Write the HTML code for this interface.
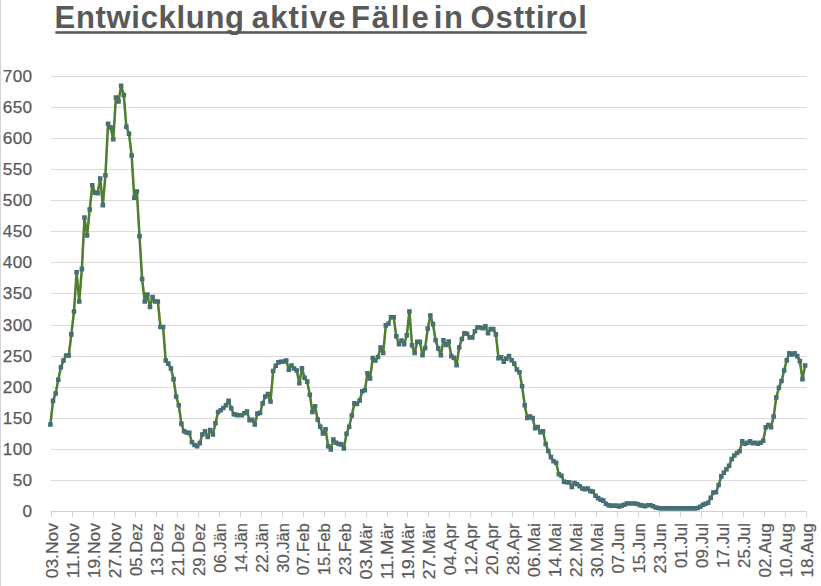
<!DOCTYPE html>
<html lang="de">
<head>
<meta charset="utf-8">
<title>Entwicklung aktive Fälle in Osttirol</title>
<style>
html,body{margin:0;padding:0;background:#fff;}
body{width:821px;height:586px;overflow:hidden;position:relative;font-family:"Liberation Sans",sans-serif;}
#chart{position:absolute;left:0;top:0;width:821px;height:586px;display:block;}
#title span{position:absolute;top:0;}
#title{position:absolute;left:0;top:-0.5px;width:700px;height:36px;margin:0;font-family:"Liberation Sans",sans-serif;font-weight:bold;font-size:31px;line-height:36px;color:#595959;white-space:nowrap;text-decoration:none;}
#lb{position:absolute;left:0;top:0;width:1px;height:586px;background:#d4d4d4;}
</style>
</head>
<body>
<div id="lb"></div>
<h1 id="title"><span style="left:54.6px;letter-spacing:0.68px">Entwicklung</span> <span style="left:251.8px;letter-spacing:1.16px">aktive</span> <span style="left:351.0px;letter-spacing:1.75px">Fälle</span> <span style="left:433.8px;letter-spacing:1.60px">in</span> <span style="left:470.6px;letter-spacing:0.85px">Osttirol</span></h1>
<svg id="chart" width="821" height="586" viewBox="0 0 821 586">
<rect x="55.4" y="31.2" width="531.4" height="2.6" fill="#595959"/>
<g stroke="#dcdcdc" stroke-width="1" fill="none" shape-rendering="crispEdges"><line x1="51.1" y1="480.50" x2="806.6" y2="480.50"/><line x1="51.1" y1="449.50" x2="806.6" y2="449.50"/><line x1="51.1" y1="418.50" x2="806.6" y2="418.50"/><line x1="51.1" y1="387.50" x2="806.6" y2="387.50"/><line x1="51.1" y1="356.50" x2="806.6" y2="356.50"/><line x1="51.1" y1="325.50" x2="806.6" y2="325.50"/><line x1="51.1" y1="293.50" x2="806.6" y2="293.50"/><line x1="51.1" y1="262.50" x2="806.6" y2="262.50"/><line x1="51.1" y1="231.50" x2="806.6" y2="231.50"/><line x1="51.1" y1="200.50" x2="806.6" y2="200.50"/><line x1="51.1" y1="169.50" x2="806.6" y2="169.50"/><line x1="51.1" y1="138.50" x2="806.6" y2="138.50"/><line x1="51.1" y1="107.50" x2="806.6" y2="107.50"/><line x1="51.1" y1="76.50" x2="806.6" y2="76.50"/></g>
<g stroke="#d2d2d2" stroke-width="1" fill="none" shape-rendering="crispEdges"><line x1="51.1" y1="511.5" x2="806.6" y2="511.5"/><line x1="51.60" y1="511.50" x2="51.60" y2="517.00"/><line x1="72.56" y1="511.50" x2="72.56" y2="517.00"/><line x1="93.53" y1="511.50" x2="93.53" y2="517.00"/><line x1="114.49" y1="511.50" x2="114.49" y2="517.00"/><line x1="135.46" y1="511.50" x2="135.46" y2="517.00"/><line x1="156.42" y1="511.50" x2="156.42" y2="517.00"/><line x1="177.38" y1="511.50" x2="177.38" y2="517.00"/><line x1="198.35" y1="511.50" x2="198.35" y2="517.00"/><line x1="219.31" y1="511.50" x2="219.31" y2="517.00"/><line x1="240.28" y1="511.50" x2="240.28" y2="517.00"/><line x1="261.24" y1="511.50" x2="261.24" y2="517.00"/><line x1="282.20" y1="511.50" x2="282.20" y2="517.00"/><line x1="303.17" y1="511.50" x2="303.17" y2="517.00"/><line x1="324.13" y1="511.50" x2="324.13" y2="517.00"/><line x1="345.10" y1="511.50" x2="345.10" y2="517.00"/><line x1="366.06" y1="511.50" x2="366.06" y2="517.00"/><line x1="387.02" y1="511.50" x2="387.02" y2="517.00"/><line x1="407.99" y1="511.50" x2="407.99" y2="517.00"/><line x1="428.95" y1="511.50" x2="428.95" y2="517.00"/><line x1="449.92" y1="511.50" x2="449.92" y2="517.00"/><line x1="470.88" y1="511.50" x2="470.88" y2="517.00"/><line x1="491.84" y1="511.50" x2="491.84" y2="517.00"/><line x1="512.81" y1="511.50" x2="512.81" y2="517.00"/><line x1="533.77" y1="511.50" x2="533.77" y2="517.00"/><line x1="554.74" y1="511.50" x2="554.74" y2="517.00"/><line x1="575.70" y1="511.50" x2="575.70" y2="517.00"/><line x1="596.66" y1="511.50" x2="596.66" y2="517.00"/><line x1="617.63" y1="511.50" x2="617.63" y2="517.00"/><line x1="638.59" y1="511.50" x2="638.59" y2="517.00"/><line x1="659.56" y1="511.50" x2="659.56" y2="517.00"/><line x1="680.52" y1="511.50" x2="680.52" y2="517.00"/><line x1="701.48" y1="511.50" x2="701.48" y2="517.00"/><line x1="722.45" y1="511.50" x2="722.45" y2="517.00"/><line x1="743.41" y1="511.50" x2="743.41" y2="517.00"/><line x1="764.38" y1="511.50" x2="764.38" y2="517.00"/><line x1="785.34" y1="511.50" x2="785.34" y2="517.00"/><line x1="806.30" y1="511.50" x2="806.30" y2="517.00"/></g>
<g font-family="'Liberation Sans',sans-serif" font-size="17.2" letter-spacing="0.35" fill="#595959" stroke="#595959" stroke-width="0.25"><text x="32.5" y="516.90" text-anchor="end">0</text><text x="32.5" y="485.90" text-anchor="end">50</text><text x="32.5" y="454.90" text-anchor="end">100</text><text x="32.5" y="423.90" text-anchor="end">150</text><text x="32.5" y="392.90" text-anchor="end">200</text><text x="32.5" y="361.90" text-anchor="end">250</text><text x="32.5" y="330.90" text-anchor="end">300</text><text x="32.5" y="298.90" text-anchor="end">350</text><text x="32.5" y="267.90" text-anchor="end">400</text><text x="32.5" y="236.90" text-anchor="end">450</text><text x="32.5" y="205.90" text-anchor="end">500</text><text x="32.5" y="174.90" text-anchor="end">550</text><text x="32.5" y="143.90" text-anchor="end">600</text><text x="32.5" y="112.90" text-anchor="end">650</text><text x="32.5" y="81.90" text-anchor="end">700</text></g>
<g font-family="'Liberation Sans',sans-serif" font-size="17" fill="#595959" stroke="#595959" stroke-width="0.22"><text transform="translate(51.70 523.1) rotate(-90)" x="-55.13" y="6.2" textLength="55.13" lengthAdjust="spacingAndGlyphs">03.Nov</text><text transform="translate(72.66 523.1) rotate(-90)" x="-55.13" y="6.2" textLength="55.13" lengthAdjust="spacingAndGlyphs">11.Nov</text><text transform="translate(93.63 523.1) rotate(-90)" x="-55.13" y="6.2" textLength="55.13" lengthAdjust="spacingAndGlyphs">19.Nov</text><text transform="translate(114.59 523.1) rotate(-90)" x="-55.13" y="6.2" textLength="55.13" lengthAdjust="spacingAndGlyphs">27.Nov</text><text transform="translate(135.56 523.1) rotate(-90)" x="-52.80" y="6.2" textLength="52.80" lengthAdjust="spacingAndGlyphs">05.Dez</text><text transform="translate(156.52 523.1) rotate(-90)" x="-52.80" y="6.2" textLength="52.80" lengthAdjust="spacingAndGlyphs">13.Dez</text><text transform="translate(177.48 523.1) rotate(-90)" x="-52.80" y="6.2" textLength="52.80" lengthAdjust="spacingAndGlyphs">21.Dez</text><text transform="translate(198.45 523.1) rotate(-90)" x="-52.80" y="6.2" textLength="52.80" lengthAdjust="spacingAndGlyphs">29.Dez</text><text transform="translate(219.41 523.1) rotate(-90)" x="-49.63" y="6.2" textLength="49.63" lengthAdjust="spacingAndGlyphs">06.Jän</text><text transform="translate(240.38 523.1) rotate(-90)" x="-49.63" y="6.2" textLength="49.63" lengthAdjust="spacingAndGlyphs">14.Jän</text><text transform="translate(261.34 523.1) rotate(-90)" x="-49.63" y="6.2" textLength="49.63" lengthAdjust="spacingAndGlyphs">22.Jän</text><text transform="translate(282.30 523.1) rotate(-90)" x="-49.63" y="6.2" textLength="49.63" lengthAdjust="spacingAndGlyphs">30.Jän</text><text transform="translate(303.27 523.1) rotate(-90)" x="-52.22" y="6.2" textLength="52.22" lengthAdjust="spacingAndGlyphs">07.Feb</text><text transform="translate(324.23 523.1) rotate(-90)" x="-52.22" y="6.2" textLength="52.22" lengthAdjust="spacingAndGlyphs">15.Feb</text><text transform="translate(345.20 523.1) rotate(-90)" x="-52.22" y="6.2" textLength="52.22" lengthAdjust="spacingAndGlyphs">23.Feb</text><text transform="translate(366.16 523.1) rotate(-90)" x="-56.32" y="6.2" textLength="56.32" lengthAdjust="spacingAndGlyphs">03.Mär</text><text transform="translate(387.12 523.1) rotate(-90)" x="-56.32" y="6.2" textLength="56.32" lengthAdjust="spacingAndGlyphs">11.Mär</text><text transform="translate(408.09 523.1) rotate(-90)" x="-56.32" y="6.2" textLength="56.32" lengthAdjust="spacingAndGlyphs">19.Mär</text><text transform="translate(429.05 523.1) rotate(-90)" x="-56.32" y="6.2" textLength="56.32" lengthAdjust="spacingAndGlyphs">27.Mär</text><text transform="translate(450.02 523.1) rotate(-90)" x="-52.04" y="6.2" textLength="52.04" lengthAdjust="spacingAndGlyphs">04.Apr</text><text transform="translate(470.98 523.1) rotate(-90)" x="-52.04" y="6.2" textLength="52.04" lengthAdjust="spacingAndGlyphs">12.Apr</text><text transform="translate(491.94 523.1) rotate(-90)" x="-52.04" y="6.2" textLength="52.04" lengthAdjust="spacingAndGlyphs">20.Apr</text><text transform="translate(512.91 523.1) rotate(-90)" x="-52.04" y="6.2" textLength="52.04" lengthAdjust="spacingAndGlyphs">28.Apr</text><text transform="translate(533.87 523.1) rotate(-90)" x="-54.05" y="6.2" textLength="54.05" lengthAdjust="spacingAndGlyphs">06.Mai</text><text transform="translate(554.84 523.1) rotate(-90)" x="-54.05" y="6.2" textLength="54.05" lengthAdjust="spacingAndGlyphs">14.Mai</text><text transform="translate(575.80 523.1) rotate(-90)" x="-54.05" y="6.2" textLength="54.05" lengthAdjust="spacingAndGlyphs">22.Mai</text><text transform="translate(596.76 523.1) rotate(-90)" x="-54.05" y="6.2" textLength="54.05" lengthAdjust="spacingAndGlyphs">30.Mai</text><text transform="translate(617.73 523.1) rotate(-90)" x="-50.52" y="6.2" textLength="50.52" lengthAdjust="spacingAndGlyphs">07.Jun</text><text transform="translate(638.69 523.1) rotate(-90)" x="-50.52" y="6.2" textLength="50.52" lengthAdjust="spacingAndGlyphs">15.Jun</text><text transform="translate(659.66 523.1) rotate(-90)" x="-50.52" y="6.2" textLength="50.52" lengthAdjust="spacingAndGlyphs">23.Jun</text><text transform="translate(680.62 523.1) rotate(-90)" x="-44.87" y="6.2" textLength="44.87" lengthAdjust="spacingAndGlyphs">01.Jul</text><text transform="translate(701.58 523.1) rotate(-90)" x="-44.87" y="6.2" textLength="44.87" lengthAdjust="spacingAndGlyphs">09.Jul</text><text transform="translate(722.55 523.1) rotate(-90)" x="-44.87" y="6.2" textLength="44.87" lengthAdjust="spacingAndGlyphs">17.Jul</text><text transform="translate(743.51 523.1) rotate(-90)" x="-44.87" y="6.2" textLength="44.87" lengthAdjust="spacingAndGlyphs">25.Jul</text><text transform="translate(764.48 523.1) rotate(-90)" x="-54.37" y="6.2" textLength="54.37" lengthAdjust="spacingAndGlyphs">02.Aug</text><text transform="translate(785.44 523.1) rotate(-90)" x="-54.37" y="6.2" textLength="54.37" lengthAdjust="spacingAndGlyphs">10.Aug</text><text transform="translate(806.40 523.1) rotate(-90)" x="-54.37" y="6.2" textLength="54.37" lengthAdjust="spacingAndGlyphs">18.Aug</text></g>
<path d="M50.40 424.50L53.02 400.89L55.64 393.43L58.26 379.76L60.88 367.33L63.50 360.49L66.12 355.52L68.74 355.52L71.36 334.39L73.98 311.40L76.60 272.25L79.23 301.46L81.85 269.14L84.47 217.56L87.09 235.59L89.71 209.49L92.33 185.25L94.95 192.71L97.57 193.33L100.19 178.41L102.81 205.14L105.43 175.31L108.05 123.73L110.67 127.46L113.29 139.26L115.91 97.63L118.53 101.36L121.15 85.82L123.77 95.14L126.39 126.83L129.01 133.67L131.64 155.42L134.26 197.68L136.88 191.46L139.50 236.21L142.12 279.09L144.74 301.46L147.36 294.62L149.98 307.05L152.60 297.11L155.22 301.46L157.84 301.46L160.46 326.94L163.08 326.94L165.70 360.49L168.32 363.60L170.94 368.57L173.56 379.14L176.18 396.54L178.80 405.24L181.42 423.88L184.05 431.34L186.67 432.58L189.29 432.89L191.91 442.21L194.53 445.01L197.15 446.25L199.77 443.14L202.39 434.44L205.01 431.34L207.63 436.93L210.25 430.09L212.87 434.44L215.49 423.26L218.11 412.07L220.73 410.21L223.35 408.03L225.97 405.24L228.59 400.89L231.21 408.34L233.84 414.25L236.46 414.87L239.08 415.18L241.70 415.18L244.32 413.31L246.94 411.45L249.56 420.15L252.18 419.84L254.80 424.50L257.42 413.62L260.04 413.00L262.66 403.37L265.28 396.54L267.90 394.05L270.52 401.51L273.14 371.06L275.76 365.77L278.38 362.36L281.00 361.74L283.62 361.42L286.24 360.49L288.87 369.81L291.49 365.46L294.11 368.57L296.73 370.44L299.35 383.17L301.97 368.26L304.59 377.89L307.21 381.62L309.83 394.67L312.45 412.07L315.07 406.17L317.69 419.53L320.31 426.67L322.93 433.51L325.55 429.16L328.17 446.25L330.79 449.36L333.41 439.41L336.03 442.83L338.65 444.07L341.28 444.39L343.90 448.42L346.52 433.82L349.14 426.67L351.76 415.49L354.38 403.37L357.00 403.99L359.62 400.57L362.24 391.25L364.86 390.32L367.48 373.23L370.10 378.51L372.72 358.01L375.34 360.49L377.96 357.07L380.58 347.44L383.20 353.04L385.82 325.38L388.44 323.83L391.06 317.30L393.69 317.30L396.31 336.26L398.93 344.34L401.55 340.61L404.17 344.34L406.79 335.32L409.41 311.40L412.03 345.27L414.65 353.04L417.27 341.85L419.89 341.85L422.51 355.21L425.13 348.06L427.75 328.49L430.37 315.44L432.99 324.14L435.61 340.30L438.23 348.37L440.85 355.21L443.47 340.30L446.10 344.96L448.72 341.54L451.34 356.14L453.96 357.70L456.58 365.15L459.20 347.44L461.82 339.05L464.44 333.15L467.06 333.77L469.68 337.50L472.30 337.50L474.92 331.29L477.54 327.25L480.16 327.56L482.78 328.18L485.40 326.31L488.02 333.15L490.64 329.11L493.26 329.11L495.88 334.39L498.51 358.32L501.13 357.39L503.75 361.74L506.37 358.63L508.99 356.14L511.61 360.18L514.23 363.60L516.85 369.50L519.47 372.30L522.09 386.28L524.71 405.24L527.33 417.97L529.95 416.42L532.57 417.97L535.19 428.23L537.81 426.99L540.43 432.27L543.05 431.34L545.67 444.07L548.29 450.91L550.92 457.12L553.54 461.16L556.16 462.72L558.78 474.21L561.40 475.77L564.02 481.67L566.64 482.29L569.26 482.42L571.88 486.95L574.50 482.91L577.12 484.16L579.74 486.33L582.36 488.51L584.98 489.13L587.60 488.51L590.22 490.99L592.84 491.61L595.46 495.65L598.08 498.14L600.70 499.69L603.33 500.62L605.95 503.73L608.57 505.29L611.19 505.60L613.81 505.60L616.43 505.60L619.05 506.53L621.67 505.60L624.29 504.66L626.91 503.42L629.53 503.42L632.15 503.42L634.77 503.42L637.39 504.04L640.01 505.10L642.63 505.60L645.25 506.28L647.87 505.29L650.49 505.29L653.11 506.22L655.74 507.58L658.36 508.08L660.98 508.39L663.60 508.39L666.22 508.39L668.84 508.39L671.46 508.39L674.08 508.39L676.70 508.39L679.32 508.39L681.94 508.39L684.56 508.39L687.18 508.39L689.80 508.39L692.42 508.39L695.04 508.39L697.66 508.08L700.28 506.84L702.90 504.66L705.52 503.73L708.15 502.80L710.77 497.83L713.39 492.55L716.01 492.24L718.63 485.09L721.25 476.39L723.87 472.66L726.49 469.24L729.11 465.82L731.73 458.99L734.35 455.57L736.97 453.09L739.59 451.22L742.21 441.28L744.83 443.76L747.45 442.83L750.07 441.28L752.69 443.14L755.31 442.83L757.93 443.76L760.56 442.83L763.18 440.66L765.80 427.30L768.42 425.12L771.04 427.30L773.66 416.42L776.28 397.47L778.90 387.84L781.52 381.00L784.14 370.44L786.76 360.18L789.38 353.35L792.00 354.59L794.62 353.35L797.24 356.14L799.86 361.11L802.48 379.14L805.10 365.46" fill="none" stroke="#527e30" stroke-width="2.5" stroke-linejoin="round" stroke-linecap="round"/>
<path d="M48.75 422.85h3.3v3.3h-3.3zM51.37 399.24h3.3v3.3h-3.3zM53.99 391.78h3.3v3.3h-3.3zM56.61 378.11h3.3v3.3h-3.3zM59.23 365.68h3.3v3.3h-3.3zM61.85 358.84h3.3v3.3h-3.3zM64.47 353.87h3.3v3.3h-3.3zM67.09 353.87h3.3v3.3h-3.3zM69.71 332.74h3.3v3.3h-3.3zM72.33 309.75h3.3v3.3h-3.3zM74.95 270.60h3.3v3.3h-3.3zM77.58 299.81h3.3v3.3h-3.3zM80.20 267.49h3.3v3.3h-3.3zM82.82 215.91h3.3v3.3h-3.3zM85.44 233.94h3.3v3.3h-3.3zM88.06 207.84h3.3v3.3h-3.3zM90.68 183.60h3.3v3.3h-3.3zM93.30 191.06h3.3v3.3h-3.3zM95.92 191.68h3.3v3.3h-3.3zM98.54 176.76h3.3v3.3h-3.3zM101.16 203.49h3.3v3.3h-3.3zM103.78 173.66h3.3v3.3h-3.3zM106.40 122.08h3.3v3.3h-3.3zM109.02 125.81h3.3v3.3h-3.3zM111.64 137.61h3.3v3.3h-3.3zM114.26 95.98h3.3v3.3h-3.3zM116.88 99.71h3.3v3.3h-3.3zM119.50 84.17h3.3v3.3h-3.3zM122.12 93.49h3.3v3.3h-3.3zM124.74 125.18h3.3v3.3h-3.3zM127.36 132.02h3.3v3.3h-3.3zM129.99 153.77h3.3v3.3h-3.3zM132.61 196.03h3.3v3.3h-3.3zM135.23 189.81h3.3v3.3h-3.3zM137.85 234.56h3.3v3.3h-3.3zM140.47 277.44h3.3v3.3h-3.3zM143.09 299.81h3.3v3.3h-3.3zM145.71 292.97h3.3v3.3h-3.3zM148.33 305.40h3.3v3.3h-3.3zM150.95 295.46h3.3v3.3h-3.3zM153.57 299.81h3.3v3.3h-3.3zM156.19 299.81h3.3v3.3h-3.3zM158.81 325.29h3.3v3.3h-3.3zM161.43 325.29h3.3v3.3h-3.3zM164.05 358.84h3.3v3.3h-3.3zM166.67 361.95h3.3v3.3h-3.3zM169.29 366.92h3.3v3.3h-3.3zM171.91 377.49h3.3v3.3h-3.3zM174.53 394.89h3.3v3.3h-3.3zM177.15 403.59h3.3v3.3h-3.3zM179.77 422.23h3.3v3.3h-3.3zM182.40 429.69h3.3v3.3h-3.3zM185.02 430.93h3.3v3.3h-3.3zM187.64 431.24h3.3v3.3h-3.3zM190.26 440.56h3.3v3.3h-3.3zM192.88 443.36h3.3v3.3h-3.3zM195.50 444.60h3.3v3.3h-3.3zM198.12 441.49h3.3v3.3h-3.3zM200.74 432.79h3.3v3.3h-3.3zM203.36 429.69h3.3v3.3h-3.3zM205.98 435.28h3.3v3.3h-3.3zM208.60 428.44h3.3v3.3h-3.3zM211.22 432.79h3.3v3.3h-3.3zM213.84 421.61h3.3v3.3h-3.3zM216.46 410.42h3.3v3.3h-3.3zM219.08 408.56h3.3v3.3h-3.3zM221.70 406.38h3.3v3.3h-3.3zM224.32 403.59h3.3v3.3h-3.3zM226.94 399.24h3.3v3.3h-3.3zM229.56 406.69h3.3v3.3h-3.3zM232.19 412.60h3.3v3.3h-3.3zM234.81 413.22h3.3v3.3h-3.3zM237.43 413.53h3.3v3.3h-3.3zM240.05 413.53h3.3v3.3h-3.3zM242.67 411.66h3.3v3.3h-3.3zM245.29 409.80h3.3v3.3h-3.3zM247.91 418.50h3.3v3.3h-3.3zM250.53 418.19h3.3v3.3h-3.3zM253.15 422.85h3.3v3.3h-3.3zM255.77 411.97h3.3v3.3h-3.3zM258.39 411.35h3.3v3.3h-3.3zM261.01 401.72h3.3v3.3h-3.3zM263.63 394.89h3.3v3.3h-3.3zM266.25 392.40h3.3v3.3h-3.3zM268.87 399.86h3.3v3.3h-3.3zM271.49 369.41h3.3v3.3h-3.3zM274.11 364.12h3.3v3.3h-3.3zM276.73 360.71h3.3v3.3h-3.3zM279.35 360.09h3.3v3.3h-3.3zM281.97 359.77h3.3v3.3h-3.3zM284.59 358.84h3.3v3.3h-3.3zM287.22 368.16h3.3v3.3h-3.3zM289.84 363.81h3.3v3.3h-3.3zM292.46 366.92h3.3v3.3h-3.3zM295.08 368.79h3.3v3.3h-3.3zM297.70 381.52h3.3v3.3h-3.3zM300.32 366.61h3.3v3.3h-3.3zM302.94 376.24h3.3v3.3h-3.3zM305.56 379.97h3.3v3.3h-3.3zM308.18 393.02h3.3v3.3h-3.3zM310.80 410.42h3.3v3.3h-3.3zM313.42 404.52h3.3v3.3h-3.3zM316.04 417.88h3.3v3.3h-3.3zM318.66 425.02h3.3v3.3h-3.3zM321.28 431.86h3.3v3.3h-3.3zM323.90 427.51h3.3v3.3h-3.3zM326.52 444.60h3.3v3.3h-3.3zM329.14 447.71h3.3v3.3h-3.3zM331.76 437.76h3.3v3.3h-3.3zM334.38 441.18h3.3v3.3h-3.3zM337.00 442.42h3.3v3.3h-3.3zM339.63 442.74h3.3v3.3h-3.3zM342.25 446.77h3.3v3.3h-3.3zM344.87 432.17h3.3v3.3h-3.3zM347.49 425.02h3.3v3.3h-3.3zM350.11 413.84h3.3v3.3h-3.3zM352.73 401.72h3.3v3.3h-3.3zM355.35 402.34h3.3v3.3h-3.3zM357.97 398.92h3.3v3.3h-3.3zM360.59 389.60h3.3v3.3h-3.3zM363.21 388.67h3.3v3.3h-3.3zM365.83 371.58h3.3v3.3h-3.3zM368.45 376.86h3.3v3.3h-3.3zM371.07 356.36h3.3v3.3h-3.3zM373.69 358.84h3.3v3.3h-3.3zM376.31 355.42h3.3v3.3h-3.3zM378.93 345.79h3.3v3.3h-3.3zM381.55 351.39h3.3v3.3h-3.3zM384.17 323.73h3.3v3.3h-3.3zM386.79 322.18h3.3v3.3h-3.3zM389.41 315.65h3.3v3.3h-3.3zM392.04 315.65h3.3v3.3h-3.3zM394.66 334.61h3.3v3.3h-3.3zM397.28 342.69h3.3v3.3h-3.3zM399.90 338.96h3.3v3.3h-3.3zM402.52 342.69h3.3v3.3h-3.3zM405.14 333.67h3.3v3.3h-3.3zM407.76 309.75h3.3v3.3h-3.3zM410.38 343.62h3.3v3.3h-3.3zM413.00 351.39h3.3v3.3h-3.3zM415.62 340.20h3.3v3.3h-3.3zM418.24 340.20h3.3v3.3h-3.3zM420.86 353.56h3.3v3.3h-3.3zM423.48 346.41h3.3v3.3h-3.3zM426.10 326.84h3.3v3.3h-3.3zM428.72 313.79h3.3v3.3h-3.3zM431.34 322.49h3.3v3.3h-3.3zM433.96 338.65h3.3v3.3h-3.3zM436.58 346.72h3.3v3.3h-3.3zM439.20 353.56h3.3v3.3h-3.3zM441.82 338.65h3.3v3.3h-3.3zM444.45 343.31h3.3v3.3h-3.3zM447.07 339.89h3.3v3.3h-3.3zM449.69 354.49h3.3v3.3h-3.3zM452.31 356.05h3.3v3.3h-3.3zM454.93 363.50h3.3v3.3h-3.3zM457.55 345.79h3.3v3.3h-3.3zM460.17 337.40h3.3v3.3h-3.3zM462.79 331.50h3.3v3.3h-3.3zM465.41 332.12h3.3v3.3h-3.3zM468.03 335.85h3.3v3.3h-3.3zM470.65 335.85h3.3v3.3h-3.3zM473.27 329.64h3.3v3.3h-3.3zM475.89 325.60h3.3v3.3h-3.3zM478.51 325.91h3.3v3.3h-3.3zM481.13 326.53h3.3v3.3h-3.3zM483.75 324.66h3.3v3.3h-3.3zM486.37 331.50h3.3v3.3h-3.3zM488.99 327.46h3.3v3.3h-3.3zM491.61 327.46h3.3v3.3h-3.3zM494.23 332.74h3.3v3.3h-3.3zM496.86 356.67h3.3v3.3h-3.3zM499.48 355.74h3.3v3.3h-3.3zM502.10 360.09h3.3v3.3h-3.3zM504.72 356.98h3.3v3.3h-3.3zM507.34 354.49h3.3v3.3h-3.3zM509.96 358.53h3.3v3.3h-3.3zM512.58 361.95h3.3v3.3h-3.3zM515.20 367.85h3.3v3.3h-3.3zM517.82 370.65h3.3v3.3h-3.3zM520.44 384.63h3.3v3.3h-3.3zM523.06 403.59h3.3v3.3h-3.3zM525.68 416.32h3.3v3.3h-3.3zM528.30 414.77h3.3v3.3h-3.3zM530.92 416.32h3.3v3.3h-3.3zM533.54 426.58h3.3v3.3h-3.3zM536.16 425.34h3.3v3.3h-3.3zM538.78 430.62h3.3v3.3h-3.3zM541.40 429.69h3.3v3.3h-3.3zM544.02 442.42h3.3v3.3h-3.3zM546.64 449.26h3.3v3.3h-3.3zM549.27 455.47h3.3v3.3h-3.3zM551.89 459.51h3.3v3.3h-3.3zM554.51 461.07h3.3v3.3h-3.3zM557.13 472.56h3.3v3.3h-3.3zM559.75 474.12h3.3v3.3h-3.3zM562.37 480.02h3.3v3.3h-3.3zM564.99 480.64h3.3v3.3h-3.3zM567.61 480.77h3.3v3.3h-3.3zM570.23 485.30h3.3v3.3h-3.3zM572.85 481.26h3.3v3.3h-3.3zM575.47 482.51h3.3v3.3h-3.3zM578.09 484.68h3.3v3.3h-3.3zM580.71 486.86h3.3v3.3h-3.3zM583.33 487.48h3.3v3.3h-3.3zM585.95 486.86h3.3v3.3h-3.3zM588.57 489.34h3.3v3.3h-3.3zM591.19 489.96h3.3v3.3h-3.3zM593.81 494.00h3.3v3.3h-3.3zM596.43 496.49h3.3v3.3h-3.3zM599.05 498.04h3.3v3.3h-3.3zM601.68 498.97h3.3v3.3h-3.3zM604.30 502.08h3.3v3.3h-3.3zM606.92 503.64h3.3v3.3h-3.3zM609.54 503.95h3.3v3.3h-3.3zM612.16 503.95h3.3v3.3h-3.3zM614.78 503.95h3.3v3.3h-3.3zM617.40 504.88h3.3v3.3h-3.3zM620.02 503.95h3.3v3.3h-3.3zM622.64 503.01h3.3v3.3h-3.3zM625.26 501.77h3.3v3.3h-3.3zM627.88 501.77h3.3v3.3h-3.3zM630.50 501.77h3.3v3.3h-3.3zM633.12 501.77h3.3v3.3h-3.3zM635.74 502.39h3.3v3.3h-3.3zM638.36 503.45h3.3v3.3h-3.3zM640.98 503.95h3.3v3.3h-3.3zM643.60 504.63h3.3v3.3h-3.3zM646.22 503.64h3.3v3.3h-3.3zM648.84 503.64h3.3v3.3h-3.3zM651.46 504.57h3.3v3.3h-3.3zM654.09 505.93h3.3v3.3h-3.3zM656.71 506.43h3.3v3.3h-3.3zM659.33 506.74h3.3v3.3h-3.3zM661.95 506.74h3.3v3.3h-3.3zM664.57 506.74h3.3v3.3h-3.3zM667.19 506.74h3.3v3.3h-3.3zM669.81 506.74h3.3v3.3h-3.3zM672.43 506.74h3.3v3.3h-3.3zM675.05 506.74h3.3v3.3h-3.3zM677.67 506.74h3.3v3.3h-3.3zM680.29 506.74h3.3v3.3h-3.3zM682.91 506.74h3.3v3.3h-3.3zM685.53 506.74h3.3v3.3h-3.3zM688.15 506.74h3.3v3.3h-3.3zM690.77 506.74h3.3v3.3h-3.3zM693.39 506.74h3.3v3.3h-3.3zM696.01 506.43h3.3v3.3h-3.3zM698.63 505.19h3.3v3.3h-3.3zM701.25 503.01h3.3v3.3h-3.3zM703.88 502.08h3.3v3.3h-3.3zM706.50 501.15h3.3v3.3h-3.3zM709.12 496.18h3.3v3.3h-3.3zM711.74 490.90h3.3v3.3h-3.3zM714.36 490.59h3.3v3.3h-3.3zM716.98 483.44h3.3v3.3h-3.3zM719.60 474.74h3.3v3.3h-3.3zM722.22 471.01h3.3v3.3h-3.3zM724.84 467.59h3.3v3.3h-3.3zM727.46 464.17h3.3v3.3h-3.3zM730.08 457.34h3.3v3.3h-3.3zM732.70 453.92h3.3v3.3h-3.3zM735.32 451.44h3.3v3.3h-3.3zM737.94 449.57h3.3v3.3h-3.3zM740.56 439.63h3.3v3.3h-3.3zM743.18 442.11h3.3v3.3h-3.3zM745.80 441.18h3.3v3.3h-3.3zM748.42 439.63h3.3v3.3h-3.3zM751.04 441.49h3.3v3.3h-3.3zM753.66 441.18h3.3v3.3h-3.3zM756.28 442.11h3.3v3.3h-3.3zM758.91 441.18h3.3v3.3h-3.3zM761.53 439.01h3.3v3.3h-3.3zM764.15 425.65h3.3v3.3h-3.3zM766.77 423.47h3.3v3.3h-3.3zM769.39 425.65h3.3v3.3h-3.3zM772.01 414.77h3.3v3.3h-3.3zM774.63 395.82h3.3v3.3h-3.3zM777.25 386.19h3.3v3.3h-3.3zM779.87 379.35h3.3v3.3h-3.3zM782.49 368.79h3.3v3.3h-3.3zM785.11 358.53h3.3v3.3h-3.3zM787.73 351.70h3.3v3.3h-3.3zM790.35 352.94h3.3v3.3h-3.3zM792.97 351.70h3.3v3.3h-3.3zM795.59 354.49h3.3v3.3h-3.3zM798.21 359.46h3.3v3.3h-3.3zM800.83 377.49h3.3v3.3h-3.3zM803.45 363.81h3.3v3.3h-3.3z" fill="#48746c" stroke="#446b84" stroke-width="1.25" stroke-linejoin="miter"/>
<path d="M50.40 424.50L53.02 400.89L55.64 393.43L58.26 379.76L60.88 367.33L63.50 360.49L66.12 355.52L68.74 355.52L71.36 334.39L73.98 311.40L76.60 272.25L79.23 301.46L81.85 269.14L84.47 217.56L87.09 235.59L89.71 209.49L92.33 185.25L94.95 192.71L97.57 193.33L100.19 178.41L102.81 205.14L105.43 175.31L108.05 123.73L110.67 127.46L113.29 139.26L115.91 97.63L118.53 101.36L121.15 85.82L123.77 95.14L126.39 126.83L129.01 133.67L131.64 155.42L134.26 197.68L136.88 191.46L139.50 236.21L142.12 279.09L144.74 301.46L147.36 294.62L149.98 307.05L152.60 297.11L155.22 301.46L157.84 301.46L160.46 326.94L163.08 326.94L165.70 360.49L168.32 363.60L170.94 368.57L173.56 379.14L176.18 396.54L178.80 405.24L181.42 423.88L184.05 431.34L186.67 432.58L189.29 432.89L191.91 442.21L194.53 445.01L197.15 446.25L199.77 443.14L202.39 434.44L205.01 431.34L207.63 436.93L210.25 430.09L212.87 434.44L215.49 423.26L218.11 412.07L220.73 410.21L223.35 408.03L225.97 405.24L228.59 400.89L231.21 408.34L233.84 414.25L236.46 414.87L239.08 415.18L241.70 415.18L244.32 413.31L246.94 411.45L249.56 420.15L252.18 419.84L254.80 424.50L257.42 413.62L260.04 413.00L262.66 403.37L265.28 396.54L267.90 394.05L270.52 401.51L273.14 371.06L275.76 365.77L278.38 362.36L281.00 361.74L283.62 361.42L286.24 360.49L288.87 369.81L291.49 365.46L294.11 368.57L296.73 370.44L299.35 383.17L301.97 368.26L304.59 377.89L307.21 381.62L309.83 394.67L312.45 412.07L315.07 406.17L317.69 419.53L320.31 426.67L322.93 433.51L325.55 429.16L328.17 446.25L330.79 449.36L333.41 439.41L336.03 442.83L338.65 444.07L341.28 444.39L343.90 448.42L346.52 433.82L349.14 426.67L351.76 415.49L354.38 403.37L357.00 403.99L359.62 400.57L362.24 391.25L364.86 390.32L367.48 373.23L370.10 378.51L372.72 358.01L375.34 360.49L377.96 357.07L380.58 347.44L383.20 353.04L385.82 325.38L388.44 323.83L391.06 317.30L393.69 317.30L396.31 336.26L398.93 344.34L401.55 340.61L404.17 344.34L406.79 335.32L409.41 311.40L412.03 345.27L414.65 353.04L417.27 341.85L419.89 341.85L422.51 355.21L425.13 348.06L427.75 328.49L430.37 315.44L432.99 324.14L435.61 340.30L438.23 348.37L440.85 355.21L443.47 340.30L446.10 344.96L448.72 341.54L451.34 356.14L453.96 357.70L456.58 365.15L459.20 347.44L461.82 339.05L464.44 333.15L467.06 333.77L469.68 337.50L472.30 337.50L474.92 331.29L477.54 327.25L480.16 327.56L482.78 328.18L485.40 326.31L488.02 333.15L490.64 329.11L493.26 329.11L495.88 334.39L498.51 358.32L501.13 357.39L503.75 361.74L506.37 358.63L508.99 356.14L511.61 360.18L514.23 363.60L516.85 369.50L519.47 372.30L522.09 386.28L524.71 405.24L527.33 417.97L529.95 416.42L532.57 417.97L535.19 428.23L537.81 426.99L540.43 432.27L543.05 431.34L545.67 444.07L548.29 450.91L550.92 457.12L553.54 461.16L556.16 462.72L558.78 474.21L561.40 475.77L564.02 481.67L566.64 482.29L569.26 482.42L571.88 486.95L574.50 482.91L577.12 484.16L579.74 486.33L582.36 488.51L584.98 489.13L587.60 488.51L590.22 490.99L592.84 491.61L595.46 495.65L598.08 498.14L600.70 499.69L603.33 500.62L605.95 503.73L608.57 505.29L611.19 505.60L613.81 505.60L616.43 505.60L619.05 506.53L621.67 505.60L624.29 504.66L626.91 503.42L629.53 503.42L632.15 503.42L634.77 503.42L637.39 504.04L640.01 505.10L642.63 505.60L645.25 506.28L647.87 505.29L650.49 505.29L653.11 506.22L655.74 507.58L658.36 508.08L660.98 508.39L663.60 508.39L666.22 508.39L668.84 508.39L671.46 508.39L674.08 508.39L676.70 508.39L679.32 508.39L681.94 508.39L684.56 508.39L687.18 508.39L689.80 508.39L692.42 508.39L695.04 508.39L697.66 508.08L700.28 506.84L702.90 504.66L705.52 503.73L708.15 502.80L710.77 497.83L713.39 492.55L716.01 492.24L718.63 485.09L721.25 476.39L723.87 472.66L726.49 469.24L729.11 465.82L731.73 458.99L734.35 455.57L736.97 453.09L739.59 451.22L742.21 441.28L744.83 443.76L747.45 442.83L750.07 441.28L752.69 443.14L755.31 442.83L757.93 443.76L760.56 442.83L763.18 440.66L765.80 427.30L768.42 425.12L771.04 427.30L773.66 416.42L776.28 397.47L778.90 387.84L781.52 381.00L784.14 370.44L786.76 360.18L789.38 353.35L792.00 354.59L794.62 353.35L797.24 356.14L799.86 361.11L802.48 379.14L805.10 365.46" fill="none" stroke="#527e30" stroke-opacity="0.28" stroke-width="2.2" stroke-linejoin="round" stroke-linecap="round"/>
</svg>
</body>
</html>
